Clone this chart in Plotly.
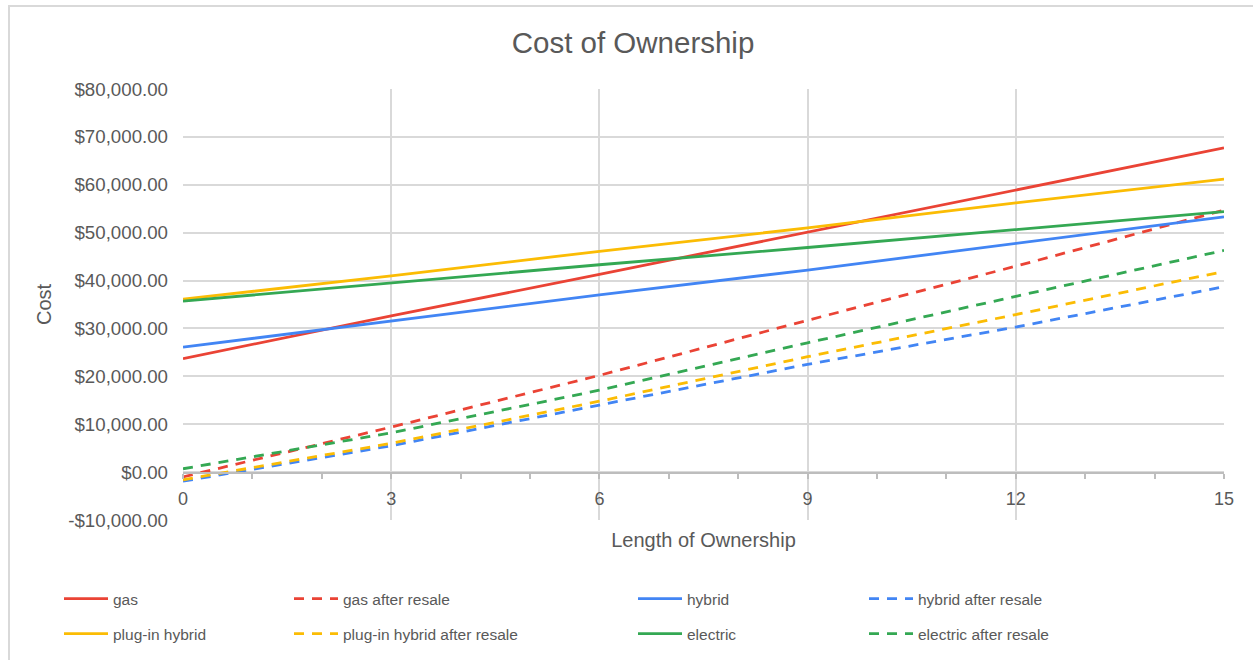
import plotly.graph_objects as go

years = [0, 3, 6, 9, 12, 15]

gas = [23700, 32600, 41300, 50100, 59000, 67700]
gas_resale = [-1000, 9400, 20200, 31700, 43000, 54700]
hybrid = [26100, 31600, 37000, 42200, 47800, 53300]
hybrid_resale = [-1900, 5500, 14000, 22500, 30300, 38700]
plugin = [36100, 41000, 46100, 51000, 56200, 61200]
plugin_resale = [-1600, 6000, 14800, 24100, 32900, 41900]
electric = [35700, 39500, 43300, 46900, 50700, 54400]
electric_resale = [700, 8200, 17100, 27000, 36700, 46300]

series_names = ["gas", "gas after resale", "hybrid", "hybrid after resale",
                "plug-in hybrid", "plug-in hybrid after resale", "electric", "electric after resale"]
series_values = [gas, gas_resale, hybrid, hybrid_resale, plugin, plugin_resale, electric, electric_resale]

y_tick_vals = [-10000, 0, 10000, 20000, 30000, 40000, 50000, 60000, 70000, 80000]
y_tick_text = ["-$10,000.00", "$0.00", "$10,000.00", "$20,000.00", "$30,000.00",
               "$40,000.00", "$50,000.00", "$60,000.00", "$70,000.00", "$80,000.00"]
x_tick_vals = [0, 3, 6, 9, 12, 15]
x_tick_text = ["0", "3", "6", "9", "12", "15"]

RED, BLUE, YELLOW, GREEN = "#ea4335", "#4285f4", "#fbbc04", "#34a853"
colors = [RED, RED, BLUE, BLUE, YELLOW, YELLOW, GREEN, GREEN]
dashes = ["solid", "10px,8px"] * 4

FONT = "Liberation Sans, Arial, sans-serif"
TXT = "#595959"

# plot area pixels
W, H = 1253, 660
L, R, T, B = 183, 29, 89, 140
pw, ph = W - L - R, H - T - B

def px_x(p):
    return (p - L) / pw

def px_y(p):
    return (H - B - p) / ph

ITEMW = 44
legend_cols_px = [113, 343, 687, 918]
legend_rows_px = [599, 634]
legend_pos = []
for r in range(2):
    for c in range(4):
        legend_pos.append((legend_cols_px[c] - ITEMW - 10, legend_rows_px[r]))

fig = go.Figure()
for i, (name, vals) in enumerate(zip(series_names, series_values)):
    lg = "legend" if i == 0 else f"legend{i+1}"
    fig.add_trace(go.Scatter(
        x=years, y=vals, name=name, mode="lines",
        line=dict(color=colors[i], width=2.8, dash=dashes[i]),
        legend=lg, hoverinfo="x+y+name",
    ))

layout_legends = {}
for i, (lx, ly) in enumerate(legend_pos):
    key = "legend" if i == 0 else f"legend{i+1}"
    layout_legends[key] = dict(
        x=px_x(lx), y=px_y(ly), xanchor="left", yanchor="middle",
        xref="paper", yref="paper", itemwidth=ITEMW,
        bgcolor="rgba(0,0,0,0)", borderwidth=0,
        font=dict(family=FONT, size=15.5, color=TXT),
    )

fig.update_layout(
    width=W, height=H,
    margin=dict(l=L, r=R, t=T, b=B, autoexpand=False),
    paper_bgcolor="white", plot_bgcolor="white",
    title=dict(text="Cost of Ownership", x=(633 - L) / pw, xref="paper", xanchor="center",
               y=1 - 43 / H, yref="container", yanchor="middle",
               font=dict(family=FONT, size=29.5, color=TXT)),
    font=dict(family=FONT, color=TXT),
    showlegend=True,
    **layout_legends,
    xaxis=dict(
        range=[0, 15], tickvals=x_tick_vals, ticktext=x_tick_text,
        anchor="free", position=px_y(473),
        showline=True, linecolor="#bdbdbd", linewidth=2,
        ticks="outside", ticklen=5, tickcolor="#bdbdbd", tickwidth=1.5,
        ticklabelstandoff=4,
        minor=dict(dtick=1, tick0=0, ticks="outside", ticklen=5, tickcolor="#bdbdbd",
                   tickwidth=1.5, showgrid=False),
        showgrid=True, gridcolor="#d9d9d9", gridwidth=1.5, zeroline=False,
        tickfont=dict(family=FONT, size=18, color=TXT),
        title=dict(text="Length of Ownership", standoff=24,
                   font=dict(family=FONT, size=20, color=TXT)),
        fixedrange=True,
    ),
    yaxis=dict(
        range=[-10000, 80000], tickvals=y_tick_vals, ticktext=y_tick_text,
        showgrid=True, gridcolor="#d9d9d9", gridwidth=1.5, zeroline=False,
        showline=False, ticks="", ticklabelstandoff=14,
        tickfont=dict(family=FONT, size=18.7, color=TXT),
        title=dict(text="Cost", standoff=11, font=dict(family=FONT, size=20, color=TXT)),
        fixedrange=True,
    ),
    shapes=[dict(type="rect", xref="paper", yref="paper",
                 x0=px_x(9), x1=px_x(1270), y0=px_y(680), y1=px_y(6),
                 line=dict(color="#d9d9d9", width=2), fillcolor="rgba(0,0,0,0)", layer="below")],
)

fig.write_html("out.html", config={"displayModeBar": False},
               post_script="document.body.style.margin='0';document.body.style.overflow='hidden';")
